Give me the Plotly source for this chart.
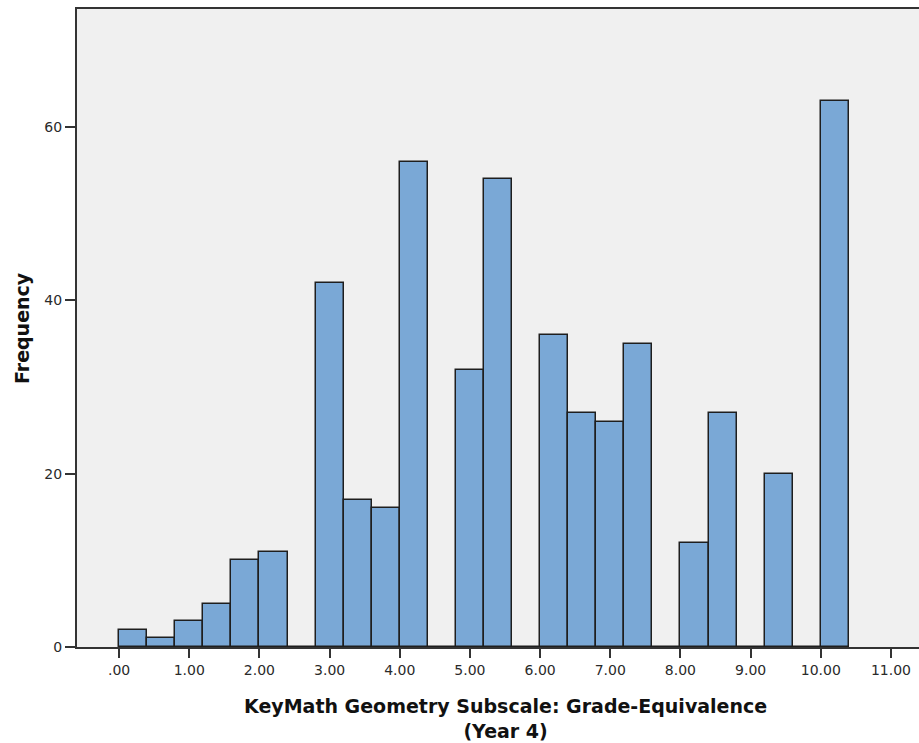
import plotly.graph_objects as go

# Histogram data: lower edge of each bin (width 0.4) and its frequency
bin_start = [0.0, 0.4, 0.8, 1.2, 1.6, 2.0, 2.4, 2.8, 3.2, 3.6, 4.0, 4.4, 4.8,
             5.2, 5.6, 6.0, 6.4, 6.8, 7.2, 7.6, 8.0, 8.4, 8.8, 9.2, 9.6, 10.0]
frequency = [2, 1, 3, 5, 10, 11, 0, 42, 17, 16, 56, 0, 32,
             54, 0, 36, 27, 26, 35, 0, 12, 27, 0, 20, 0, 63]
bin_width = 0.4

x_tickvals = [0, 1, 2, 3, 4, 5, 6, 7, 8, 9, 10, 11]
x_ticktext = [".00", "1.00", "2.00", "3.00", "4.00", "5.00", "6.00",
              "7.00", "8.00", "9.00", "10.00", "11.00"]
y_tickvals = [0, 20, 40, 60]

x_title = "KeyMath Geometry Subscale: Grade-Equivalence<br>(Year 4)"
y_title = "Frequency"

fig = go.Figure()
fig.add_trace(go.Bar(
    x=bin_start, y=frequency, width=bin_width, offset=0,
    marker=dict(color="rgb(122,168,214)", line=dict(color="#1e1e1e", width=1.5)),
    hoverinfo="x+y",
))

W, H = 919, 743
L, R, T, B = 77, 0, 9, 96
pw = W - L - R
ph = H - T - B

tickfont = dict(family="DejaVu Sans", size=14, color="#2a2a2a")
titlefont = dict(family="DejaVu Sans", size=19, color="#111111", weight="bold")

fig.update_layout(
    width=W, height=H,
    margin=dict(l=L, r=R, t=T, b=B, pad=0),
    paper_bgcolor="white",
    plot_bgcolor="#f0f0f0",
    showlegend=False,
    bargap=0,
    xaxis=dict(
        range=[-0.6, 11.4], tickvals=x_tickvals, ticktext=x_ticktext,
        ticks="outside", ticklen=9, tickwidth=2, tickcolor="#333333",
        showline=True, linecolor="#333333", linewidth=2, mirror=True,
        showgrid=False, zeroline=False, tickfont=tickfont,
    ),
    yaxis=dict(
        range=[0, 73.6], tickvals=y_tickvals,
        ticks="outside", ticklen=10, tickwidth=2, tickcolor="#333333",
        showline=True, linecolor="#333333", linewidth=2, mirror=False,
        showgrid=False, zeroline=False, tickfont=tickfont,
    ),
    annotations=[
        dict(text=x_title, xref="paper", yref="paper",
             x=(505 - L) / pw, y=-(693 - (T + ph)) / ph,
             xanchor="center", yanchor="top", showarrow=False,
             font=titlefont, align="center"),
        dict(text=y_title, xref="paper", yref="paper",
             x=(22 - L) / pw, y=0.5, xanchor="center", yanchor="middle",
             textangle=-90, showarrow=False, font=titlefont),
    ],
)

fig.write_html("out.html")
